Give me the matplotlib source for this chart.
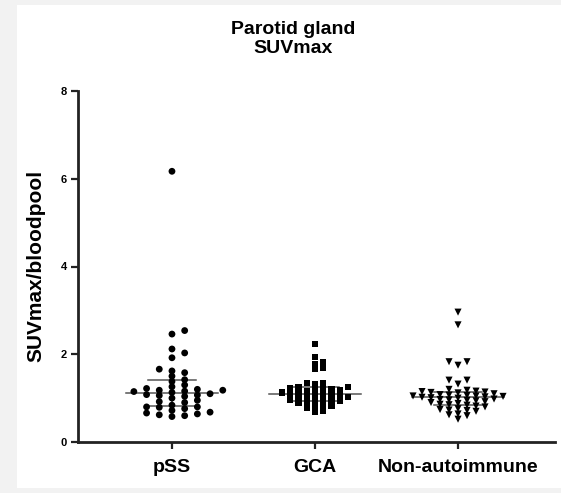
import matplotlib.pyplot as plt
import numpy as np
from matplotlib.patches import Rectangle

plt.rcParams['font.family'] = ['Liberation Sans', 'DejaVu Sans']

# data (SUVmax / bloodpool, parotid gland)
groups = ["pSS", "GCA", "Non-autoimmune"]
pss = [6.17, 2.54, 2.46, 2.12, 2.03, 1.92, 1.66, 1.62, 1.58, 1.50,
       1.42, 1.38, 1.30, 1.26, 1.22, 1.20, 1.18, 1.18, 1.16, 1.15,
       1.13, 1.10, 1.08, 1.07, 1.06, 1.04, 1.00, 0.95, 0.92, 0.90,
       0.84, 0.80, 0.80, 0.79, 0.76, 0.72, 0.68, 0.66, 0.64, 0.62,
       0.60, 0.58]
gca = [2.23, 1.94, 1.83, 1.78, 1.69, 1.66, 1.35, 1.35, 1.31, 1.26,
       1.24, 1.22, 1.22, 1.20, 1.18, 1.17, 1.15, 1.13, 1.12, 1.10,
       1.09, 1.08, 1.06, 1.05, 1.03, 1.02, 1.00, 0.98, 0.96, 0.95,
       0.93, 0.92, 0.90, 0.88, 0.86, 0.82, 0.80, 0.78, 0.72, 0.68]
non_auto = [2.96, 2.67, 1.83, 1.83, 1.75, 1.41, 1.41, 1.32, 1.20, 1.18,
            1.16, 1.15, 1.14, 1.13, 1.12, 1.10, 1.08, 1.07, 1.06, 1.05,
            1.05, 1.04, 1.03, 1.02, 1.01, 1.00, 0.98, 0.97, 0.96, 0.95,
            0.94, 0.92, 0.90, 0.88, 0.86, 0.85, 0.84, 0.82, 0.80, 0.76,
            0.74, 0.73, 0.72, 0.70, 0.64, 0.62, 0.60, 0.52]
yticks = [0, 2, 4, 6, 8]

markers = ['o', 's', 'v']
marker_sizes = [24, 20, 26]
col_step_px = [12.7, 8.3, 9.0]   # horizontal step of the swarm columns
row_gap_px = [5.2, 5.2, 4.6]     # min vertical gap inside one column

W, H = 561, 493
fig = plt.figure(figsize=(W / 100, H / 100), dpi=100)
fig.patch.set_facecolor('#f2f2f2')
fig.patches.append(Rectangle((17 / W, 1 - 488 / H), (W - 17) / W, (488 - 5) / H,
                             transform=fig.transFigure, facecolor='white',
                             edgecolor='none', zorder=-10))

ax_l, ax_r, ax_t, ax_b = 78, 555, 91, 442
ax = fig.add_axes([ax_l / W, 1 - ax_b / H, (ax_r - ax_l) / W, (ax_b - ax_t) / H])
ax.set_facecolor('white')
ax.set_zorder(1)

xlim = (-0.657, 2.678)
ylim = (0, 8)
ax.set_xlim(*xlim)
ax.set_ylim(*ylim)
px_per_x = (ax_r - ax_l) / (xlim[1] - xlim[0])
px_per_y = (ax_b - ax_t) / (ylim[1] - ylim[0])


def swarm_offsets(vals, step, gap):
    # greedy column placement, like a prism scatter plot
    order = np.argsort(vals)
    placed = []
    offs = np.zeros(len(vals))
    cands = [0]
    for j in range(1, 30):
        cands += [j, -j]
    for i in order:
        y = vals[i] * px_per_y
        x = 0
        for k in cands:
            x = k * step / 2
            ok = True
            for (px, py) in placed:
                if abs(px - x) < step * 0.95 and abs(py - y) < gap:
                    ok = False
                    break
            if ok:
                break
        placed.append((x, y))
        offs[i] = x / px_per_x
    return offs


for gi, vals in enumerate([pss, gca, non_auto]):
    vals = np.array(vals)
    offs = swarm_offsets(vals, col_step_px[gi], row_gap_px[gi])
    ax.scatter(gi + offs, vals, marker=markers[gi], s=marker_sizes[gi],
               color='black', edgecolors='none', zorder=3)
    med = np.median(vals)
    q1, q3 = np.percentile(vals, [25, 75])
    ax.plot([gi - 0.32, gi + 0.32], [med, med], color='#555555', lw=1.1, zorder=2)
    ax.plot([gi, gi], [q1, q3], color='#555555', lw=1.1, zorder=2)
    for q in (q1, q3):
        ax.plot([gi - 0.17, gi + 0.17], [q, q], color='#555555', lw=1.1, zorder=2)

for s in ['top', 'right']:
    ax.spines[s].set_visible(False)
for s in ['left', 'bottom']:
    ax.spines[s].set_linewidth(2)
    ax.spines[s].set_color('#222222')

ax.set_yticks(yticks)
ax.set_yticklabels([str(t) for t in yticks], fontsize=8, fontweight='bold')
ax.set_xticks(range(len(groups)))
ax.set_xticklabels(groups, fontsize=14, fontweight='bold')
ax.tick_params(axis='y', direction='out', length=5, width=1.6, pad=3, color='#222222')
ax.tick_params(axis='x', direction='out', length=5, width=1.6, pad=7, color='#222222')

fig.text(36 / W, 1 - 266 / H, "SUVmax/bloodpool", rotation=90, ha='center',
         va='center', fontsize=15, fontweight='bold')
fig.text(293 / W, 1 - 39 / H, "Parotid gland\nSUVmax", ha='center', va='center',
         fontsize=14, fontweight='bold', linespacing=1.15)

fig.savefig("out.png", dpi=100, facecolor=fig.get_facecolor())
